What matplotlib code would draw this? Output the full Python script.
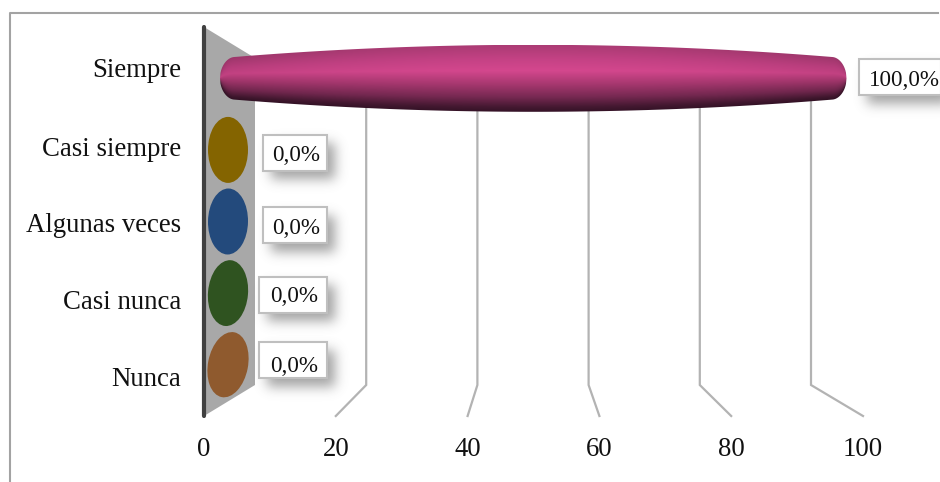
import numpy as np
import matplotlib
matplotlib.use("Agg")
import matplotlib.pyplot as plt
from matplotlib.colors import LinearSegmentedColormap
from matplotlib.patches import Ellipse, Polygon, Rectangle
from matplotlib.transforms import Affine2D

categories = ["Nunca", "Casi nunca", "Algunas veces", "Casi siempre", "Siempre"]
values = [0.0, 0.0, 0.0, 0.0, 100.0]
labels = ["0,0%", "0,0%", "0,0%", "0,0%", "100,0%"]
colors = ["#8f5a2e", "#2f5320", "#234a7c", "#846400", "#c23f82"]
xticks = [0, 20, 40, 60, 80, 100]

W, H = 940, 482
X0, X100, YB, YT = 204, 863, 416, 27
SX = (X100 - X0) / 100
SY = (YB - YT) / 5
DX, DY = 51, 31          # depth offset of the rear plane, pixels
SHRINK_X, SHRINK_Y = 556 / 659, 327 / 389

plt.rcParams["font.family"] = ["Liberation Serif", "DejaVu Serif"]
fig = plt.figure(figsize=(W / 100, H / 100), dpi=100)
ax = fig.add_axes([X0 / W, 1 - YB / H, (X100 - X0) / W, (YB - YT) / H])
ax.set_xlim(0, 100)
ax.set_ylim(0, 5)
for s in ax.spines.values():
    s.set_visible(False)


def project(v, u, d):
    """Front-plane coordinates of a point at depth d (0 front, 1 rear)."""
    x = d * DX / SX + v * (1 - d * (1 - SHRINK_X))
    y = d * DY / SY + u * (1 - d * (1 - SHRINK_Y))
    return x, y


# outer chart frame
fig.add_artist(plt.Line2D([9.5 / W, 9.5 / W, 938 / W], [0, 1 - 13 / H, 1 - 13 / H],
                          color="#a3a3a3", lw=1.5))

# rear gridlines and the floor edge
for t in xticks[1:]:
    xf, yf = project(t, 0, 0)
    xb, yb = project(t, 0, 1)
    _, ytop = project(t, 4.5, 0.5)
    ax.plot([xf, xb, xb], [yf, yb, ytop], color="#b3b3b3", lw=1.6, zorder=1,
            clip_on=False, solid_joinstyle="miter")

# side wall
corners = [project(0, 0, 0), project(0, 0, 1), project(0, 5, 1), project(0, 5, 0)]
ax.add_patch(Polygon(corners, closed=True, fc="#a8a8a8", ec="none", zorder=2, clip_on=False))
ax.plot([0, 0], [0, 5], color="#404040", lw=3.0, zorder=3, clip_on=False,
        solid_capstyle="round")

HALF_H = 33.5 / SY
TILTS = [11, 5, 1, 0, 0]

# zero-valued bars show only their end caps
for i, v in enumerate(values):
    if v > 0:
        continue
    cx, cy = project(v, i + 0.5, 0.5)
    ax.add_patch(Ellipse((cx * SX - 1.5, cy * SY), 40, 66, angle=-TILTS[i], fc=colors[i], ec="none",
                         transform=Affine2D().scale(1 / SX, 1 / SY) + ax.transData,
                         zorder=4, clip_on=False))

# non-zero bars are rounded cylinders whose sheen follows the outline
sheen = LinearSegmentedColormap.from_list(
    "sheen",
    [(0.0, "#a83a72"), (0.22, "#c24183"), (0.38, "#d0468b"), (0.58, "#a5376e"),
     (0.78, "#742850"), (0.93, "#431830"), (1.0, "#341226")])
for i, v in enumerate(values):
    if v <= 0:
        continue
    xa, yc = project(0, i + 0.5, 0.5)
    xb, _ = project(v, i + 0.5, 0.5)
    cap = 9.5 / SX
    left, right = xa - cap, xb + cap
    mid, half = (left + right) / 2, (right - left) / 2
    t = np.linspace(-1, 1, 1200)
    t0 = 1 - 14 / (half * SX)
    end = np.clip((np.abs(t) - t0) / (1 - t0), 0, 1)
    prof = (0.6 + 0.4 * (1 - t ** 2)) * np.sqrt(1 - end ** 2)
    xs = mid + half * t
    top = yc + HALF_H * prof
    bot = yc - HALF_H * prof
    outline = np.column_stack([np.r_[xs, xs[::-1]], np.r_[top, bot[::-1]]])
    clip = Polygon(outline, closed=True, transform=ax.transData, fc="none", ec="none",
                   clip_on=False)
    ax.add_patch(clip)
    # shade each column between its own top and bottom edge
    rows = np.linspace(1, -1, 300)[:, None]
    envelope = np.maximum(prof, 0.12)[None, :]
    shade = np.clip((1 - rows / envelope) / 2, 0, 1)
    rgb = sheen(shade)[..., :3]
    rgb *= (0.93 + 0.09 * (1 - t ** 2))[None, :, None]
    im = ax.imshow(np.clip(rgb, 0, 1), aspect="auto",
                   extent=[left, right, yc - HALF_H, yc + HALF_H], origin="upper",
                   zorder=5)
    im.set_clip_path(clip)


def blurred(nx, ny, margin, sigma):
    """Alpha mask of a rectangle softened with a gaussian kernel."""
    a = np.zeros((ny + 2 * margin, nx + 2 * margin))
    a[margin:-margin, margin:-margin] = 1
    r = np.arange(-3 * sigma, 3 * sigma + 1)
    k = np.exp(-r ** 2 / (2 * sigma ** 2))
    k /= k.sum()
    a = np.apply_along_axis(lambda c: np.convolve(c, k, mode="same"), 0, a)
    a = np.apply_along_axis(lambda c: np.convolve(c, k, mode="same"), 1, a)
    return a


# data labels: white boxes with a soft drop shadow
BOX_W = [68, 68, 64, 64, 82]
BOX_LEFT = [29.5, 29.5, 33.5, 33.5, 22.5]
BOX_CY = [359.5, 294.5, 225, 152.5, 77]
TEXT_DX = [1, 1, 1, 1, 4]
TEXT_DY = [4, -1, 1, 1, 1]
BOX_H = 36
for i, (v, lab) in enumerate(zip(values, labels)):
    xm, _ = project(v, i + 0.5, 0.5)
    px = X0 + xm * SX + BOX_LEFT[i]
    py = BOX_CY[i]
    bw = BOX_W[i]
    m = 24
    alpha = blurred(int(bw), BOX_H, m, 6) * 0.62
    rgba = np.zeros(alpha.shape + (4,))
    rgba[..., :3] = 0.42
    rgba[..., 3] = alpha
    sx0 = px - m + 8
    sy0 = py - BOX_H / 2 - m + 9
    im = ax.imshow(rgba, aspect="auto", zorder=6, interpolation="bilinear",
                   extent=[(sx0 - X0) / SX, (sx0 + alpha.shape[1] - X0) / SX,
                           (YB - sy0 - alpha.shape[0]) / SY, (YB - sy0) / SY])
    im.set_clip_on(False)
    ax.add_patch(Rectangle(((px - X0) / SX, (YB - py - BOX_H / 2) / SY), bw / SX, BOX_H / SY,
                           fc="white", ec="#bfbfbf", lw=1.5, zorder=7, clip_on=False))
    ax.text((px + bw / 2 + TEXT_DX[i] - X0) / SX, (YB - py - TEXT_DY[i]) / SY, lab,
            ha="center", va="center_baseline",
            fontsize=16.6, color="#111111", zorder=8, clip_on=False)

# category labels sit at a slightly tighter spacing than the wall
LABEL_NUDGE = np.array([1, 0, -1, -3, -2])
ax.set_xlim(0, 100)
ax.set_ylim(0, 5)
ax.set_xticks(xticks)
ax.set_xticklabels([str(t) for t in xticks], fontsize=19.3, color="#111111")
ax.set_yticks(np.arange(5) + 0.5 + LABEL_NUDGE / SY)
ax.set_yticklabels(categories, fontsize=19.3, color="#111111")
ax.tick_params(axis="x", length=0, pad=15)
ax.tick_params(axis="y", length=0, pad=16.5)

fig.savefig("out.png", dpi=100, facecolor="white")
